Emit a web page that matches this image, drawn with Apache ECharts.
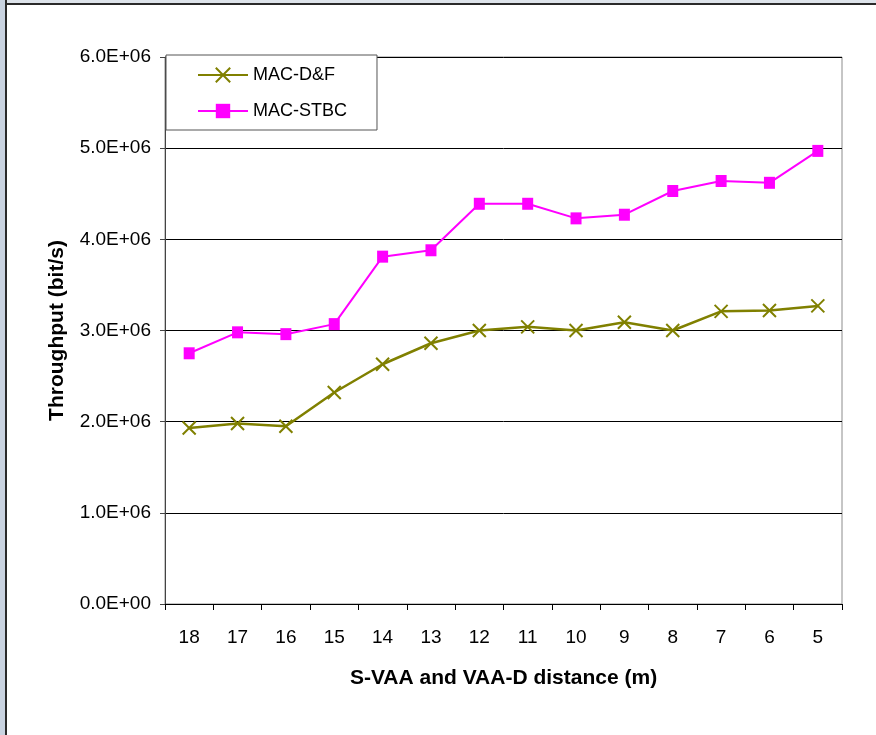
<!DOCTYPE html>
<html><head><meta charset="utf-8">
<script src="https://cdn.jsdelivr.net/npm/echarts@6/dist/echarts.min.js"></script>
<style>
html,body{margin:0;padding:0;background:#fff;}
#wrap{position:relative;width:876px;height:735px;overflow:hidden;}
#edgeL{position:absolute;left:0;top:0;width:5px;height:735px;background:#c9d3e0;border-right:2px solid #2a2a2a;z-index:2;}
#edgeT{position:absolute;left:0;top:0;width:876px;height:3px;background:#dde3ea;border-bottom:2px solid #2a2a2a;z-index:2;}
#chart{position:absolute;left:0;top:0;width:876px;height:735px;}
</style></head>
<body><div id="wrap"><div id="chart"></div><div id="edgeT"></div><div id="edgeL"></div></div>
<script>
const categories = ['18','17','16','15','14','13','12','11','10','9','8','7','6','5'];
const macDF   = [1.93e6,1.98e6,1.95e6,2.32e6,2.63e6,2.86e6,3.00e6,3.04e6,3.00e6,3.09e6,3.00e6,3.21e6,3.22e6,3.27e6];
const macSTBC = [2.75e6,2.98e6,2.96e6,3.07e6,3.81e6,3.88e6,4.39e6,4.39e6,4.23e6,4.27e6,4.53e6,4.64e6,4.62e6,4.97e6];
const seriesNames = ['MAC-D&F','MAC-STBC'];

function fmtE(v){
  if (v === 0) return '0.0E+00';
  const s = v.toExponential(1).split('e');
  const e = parseInt(s[1],10);
  return s[0] + 'E' + (e<0?'-':'+') + String(Math.abs(e)).padStart(2,'0');
}
const FONT = '"Liberation Sans", Arial, sans-serif';
const XMARK = 'path://M0,0 L10,10 M10,0 L0,10';
const chart = echarts.init(document.getElementById('chart'), null, {renderer:'canvas'});
chart.setOption({
  backgroundColor:'#fff',
  animation:false,
  grid:{left:165, right:34, top:57, bottom:131, show:true, borderColor:'#8c8c8c', borderWidth:1, backgroundColor:'transparent'},
  legend:{
    left:166, top:55, orient:'vertical', itemGap:18,
    padding:[11,30,10,31],
    backgroundColor:'#fff', borderColor:'#555', borderWidth:1,
    itemWidth:50, itemHeight:18,
    textStyle:{fontFamily:FONT, fontSize:18, color:'#000'},
    data:seriesNames
  },
  xAxis:{
    type:'category', data:categories, boundaryGap:true,
    name:'S-VAA and VAA-D distance (m)', nameLocation:'middle', nameGap:64,
    nameTextStyle:{fontFamily:FONT, fontSize:21, fontWeight:'bold', color:'#000'},
    axisLine:{lineStyle:{color:'#000', width:1}},
    axisTick:{show:true, length:6, lineStyle:{color:'#000'}},
    axisLabel:{fontFamily:FONT, fontSize:19, color:'#000', margin:24},
    splitLine:{show:false}
  },
  yAxis:{
    type:'value', min:0, max:6e6, interval:1e6,
    name:'Throughput (bit/s)', nameLocation:'middle', nameGap:97, nameRotate:90,
    nameTextStyle:{fontFamily:FONT, fontSize:21, fontWeight:'bold', color:'#000'},
    axisLine:{show:true, lineStyle:{color:'#444', width:1}},
    axisTick:{show:true, length:5, lineStyle:{color:'#444'}},
    axisLabel:{fontFamily:FONT, fontSize:19, color:'#000', margin:14, formatter:fmtE},
    splitLine:{show:true, lineStyle:{color:'#000', width:1}}
  },
  series:[
    {name:seriesNames[0], type:'line', data:macDF, color:'#808000',
     symbol:XMARK, symbolSize:13,
     lineStyle:{width:2.5, color:'#808000'},
     itemStyle:{color:'transparent', borderColor:'#808000', borderWidth:2}},
    {name:seriesNames[1], type:'line', data:macSTBC, color:'#ff00ff',
     symbol:'rect', symbolSize:[11,12],
     lineStyle:{width:2, color:'#ff00ff'},
     itemStyle:{color:'#ff00ff'}}
  ]
});
</script></body></html>
